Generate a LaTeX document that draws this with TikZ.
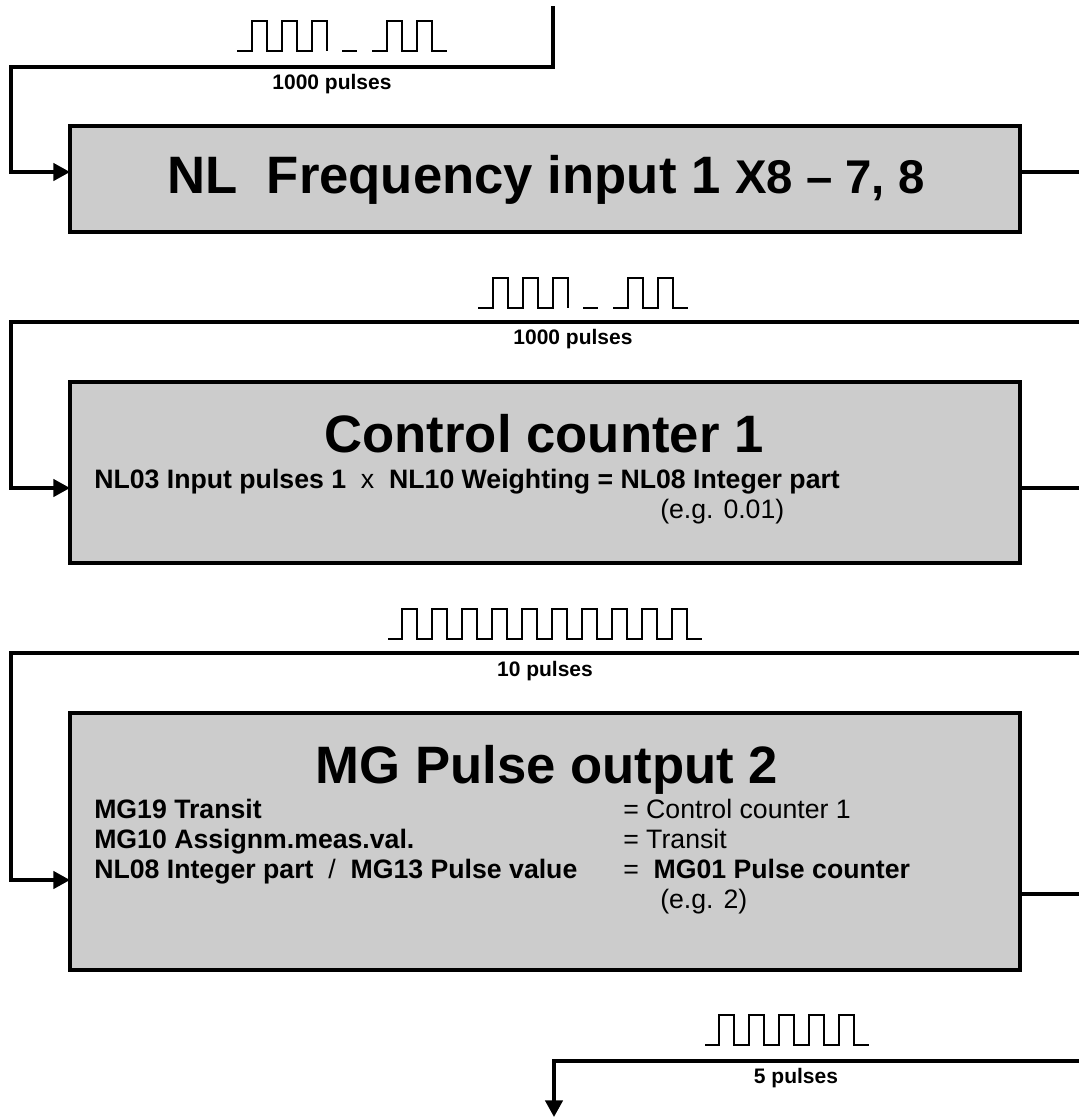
\documentclass[tikz,border=0pt]{standalone}
\usepackage{fontspec}
\setmainfont{Liberation Sans}
\usetikzlibrary{arrows.meta}
\definecolor{boxgray}{HTML}{CCCCCC}
\begin{document}
\begin{tikzpicture}[x=0.75pt,y=-0.75pt,
  conn/.style={line width=2.6pt},
  arr/.style={conn,-{Triangle[length=12.5pt,width=13pt]}},
  box/.style={draw,line width=2.4pt,fill=boxgray,inner sep=0pt,outer sep=0pt},
  wave/.style={line width=1.05pt},
  title/.style={inner sep=0pt,font=\bfseries\fontsize{39.5}{47}\selectfont},
  sub/.style={inner sep=0pt,font=\bfseries\fontsize{20}{24}\selectfont},
  subr/.style={inner sep=0pt,font=\fontsize{20}{24}\selectfont},
  lab/.style={inner sep=0pt,font=\bfseries\fontsize{15.75}{19}\selectfont}]
\useasboundingbox (0,0) rectangle (1078,1117);

% boxes
\node[box,minimum width=712.5pt,minimum height=79.5pt] (box1) at (545,179) {};
\node[box,minimum width=712.5pt,minimum height=135.75pt] (box2) at (545,472.5) {};
\node[box,minimum width=712.5pt,minimum height=192.75pt] (box3) at (545,841.5) {};

% connectors
\coordinate (in1) at (553,6);
\coordinate (k1) at (553,67);
\coordinate (a1) at (11,172);
\draw[arr] (in1) -- (k1) -| (a1) -- (a1 -| box1.west);
\coordinate (o1) at (1080,172);
\draw[conn] (o1 -| box1.east) -- (o1);

\coordinate (in2) at (1080,322);
\coordinate (a2) at (11,488);
\draw[arr] (in2) -| (a2) -- (a2 -| box2.west);
\coordinate (o2) at (1080,488);
\draw[conn] (o2 -| box2.east) -- (o2);

\coordinate (in3) at (1080,653);
\coordinate (a3) at (11,880);
\draw[arr] (in3) -| (a3) -- (a3 -| box3.west);
\coordinate (o3) at (1080,894);
\draw[conn] (o3 -| box3.east) -- (o3);

\coordinate (in4) at (1080,1061);
\coordinate (out4) at (554,1117);
\draw[arr] (in4) -| (out4);

% waveforms
\newcommand\burstwave[2]{%
  \begin{scope}[shift={(#1,#2)}]
    \draw[wave] (0,0) -- (15,0) -- (15,-30) -- (30,-30) -- (30,0) -- (45,0) -- (45,-30) -- (60,-30) -- (60,0) -- (75,0) -- (75,-30) -- (90,-30) -- (90,0);
    \draw[wave] (105,0) -- (120,0);
    \draw[wave] (135,0) -- (150,0) -- (150,-30) -- (165,-30) -- (165,0) -- (180,0) -- (180,-30) -- (195,-30) -- (195,0) -- (210,0);
  \end{scope}}
\burstwave{237}{51}
\burstwave{478}{308}
\draw[wave] (388,639) -- ++(14,0) \foreach \i in {1,...,10}{ -- ++(0,-30) -- ++(15,0) -- ++(0,30) -- ++(15,0)};
\draw[wave] (705,1045) -- ++(14,0) \foreach \i in {1,...,5}{ -- ++(0,-30) -- ++(15,0) -- ++(0,30) -- ++(15,0)};

% labels
\node[lab,anchor=base] (l1) at (332,89) {1000 pulses};
\node[lab,anchor=base] (l2) at (573,344) {1000 pulses};
\node[lab,anchor=base] (l3) at (545,676) {10 pulses};
\node[lab,anchor=base] (l4) at (796,1083) {5 pulses};

% box 1 text
\node[title,anchor=base] (t1) at (546,193) {NL\ \ Frequency input 1 {\fontsize{35.5}{42}\selectfont X8 – 7, 8}};

% box 2 text
\node[title,anchor=base] (t2) at (544,452) {Control counter 1};
\node[sub,anchor=base west] (s2) at (94,488) {NL03 Input pulses 1\ \ {\mdseries x}\ \ NL10 Weighting = NL08 Integer part};
\node[subr,anchor=base west] (e2) at (660,518) {(e.g. 0.01)};

% box 3 text
\node[title,anchor=base] (t3) at (547,783) {MG Pulse output 2};
\node[sub,anchor=base west] (s31) at (94,818) {MG19 Transit};
\node[sub,anchor=base west] (s32) at (94,848) {MG10 Assignm.meas.val.};
\node[sub,anchor=base west] (s33) at (94,878) {NL08 Integer part\ \ {\mdseries /}\ \ MG13 Pulse value};
\node[subr,anchor=base west] (r31) at (623,818) {= Control counter 1};
\node[subr,anchor=base west] (r32) at (623,848) {= Transit};
\node[subr,anchor=base west] (r33) at (623,878) {=\ \ \textbf{MG01 Pulse counter}};
\node[subr,anchor=base west] (e3) at (660,908) {(e.g. 2)};
\end{tikzpicture}
\end{document}
